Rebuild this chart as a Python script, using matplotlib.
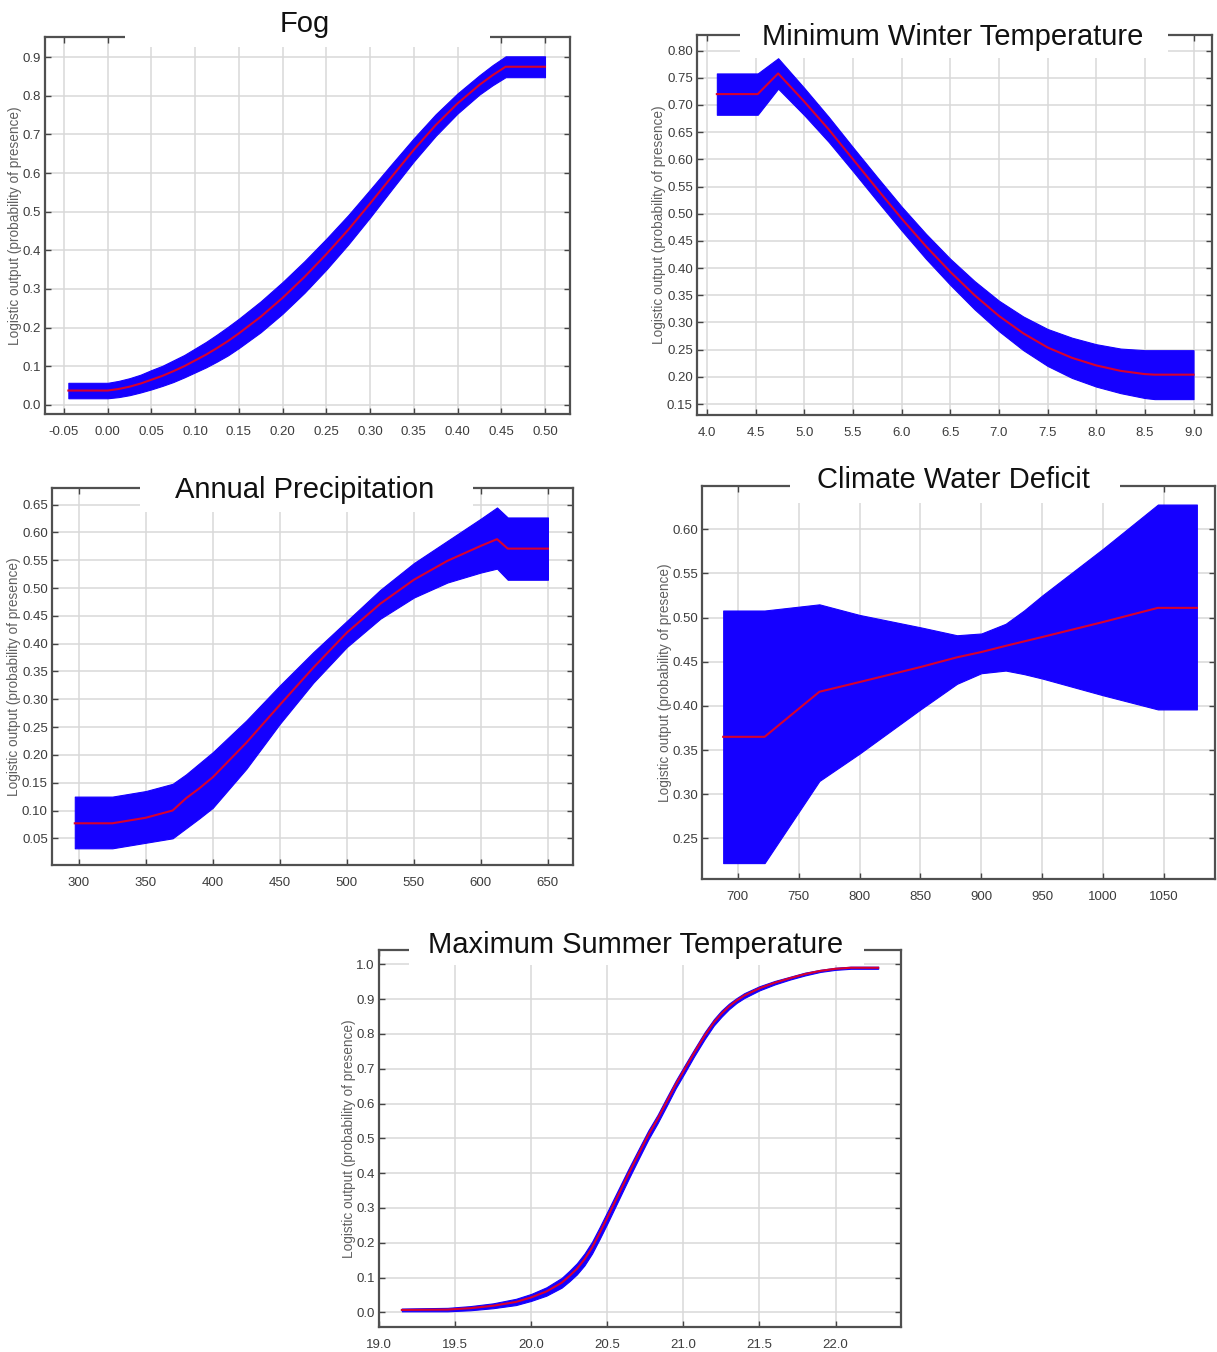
import numpy as np
import matplotlib
matplotlib.use('Agg')
import matplotlib.pyplot as plt
from matplotlib.patches import Rectangle
plt.close('all')

# Fog
fog_x = [-0.045, 0.0, 0.0125, 0.025, 0.0375, 0.05, 0.0625, 0.075, 0.0875, 0.10, 0.1125,
         0.125, 0.1375, 0.15, 0.175, 0.20, 0.225, 0.25, 0.275, 0.30, 0.325, 0.35, 0.375,
         0.40, 0.425, 0.44, 0.455, 0.50]
fog_mean = [0.037, 0.037, 0.041, 0.047, 0.055, 0.065, 0.075, 0.087, 0.100, 0.115, 0.130,
            0.147, 0.165, 0.185, 0.228, 0.277, 0.331, 0.390, 0.453, 0.521, 0.591, 0.660, 0.724,
            0.780, 0.828, 0.853, 0.875, 0.875]
fog_hi = [0.057, 0.057, 0.062, 0.069, 0.078, 0.090, 0.101, 0.115, 0.129, 0.146, 0.163,
          0.182, 0.202, 0.223, 0.268, 0.318, 0.372, 0.430, 0.491, 0.557, 0.624, 0.690, 0.752,
          0.806, 0.853, 0.879, 0.902, 0.902]
fog_lo = [0.017, 0.017, 0.020, 0.025, 0.032, 0.040, 0.049, 0.059, 0.071, 0.084, 0.097,
          0.112, 0.128, 0.147, 0.188, 0.236, 0.290, 0.350, 0.415, 0.485, 0.558, 0.630, 0.696,
          0.754, 0.803, 0.827, 0.848, 0.848]
fog_xticks = [-0.05, 0.0, 0.05, 0.10, 0.15, 0.20, 0.25, 0.30, 0.35, 0.40, 0.45, 0.50]
fog_yticks = [0.0, 0.1, 0.2, 0.3, 0.4, 0.5, 0.6, 0.7, 0.8, 0.9]

# Minimum Winter Temperature
mwt_x = [4.1, 4.52, 4.73, 5.0, 5.25, 5.5, 5.75, 6.0, 6.25, 6.5, 6.75, 7.0, 7.25,
         7.5, 7.75, 8.0, 8.25, 8.5, 8.6, 9.0]
mwt_mean = [0.720, 0.720, 0.758, 0.706, 0.655, 0.600, 0.545, 0.491, 0.440, 0.393, 0.350,
            0.312, 0.280, 0.254, 0.235, 0.221, 0.211, 0.205, 0.204, 0.204]
mwt_hi = [0.758, 0.758, 0.786, 0.731, 0.678, 0.622, 0.567, 0.513, 0.463, 0.417, 0.376,
          0.340, 0.311, 0.288, 0.272, 0.260, 0.252, 0.249, 0.249, 0.249]
mwt_lo = [0.682, 0.682, 0.730, 0.681, 0.632, 0.578, 0.523, 0.469, 0.417, 0.369, 0.324,
          0.284, 0.249, 0.220, 0.198, 0.182, 0.170, 0.161, 0.159, 0.159]
mwt_xticks = [4.0, 4.5, 5.0, 5.5, 6.0, 6.5, 7.0, 7.5, 8.0, 8.5, 9.0]
mwt_yticks = [0.15, 0.20, 0.25, 0.30, 0.35, 0.40, 0.45, 0.50, 0.55, 0.60, 0.65, 0.70, 0.75, 0.80]

# Annual Precipitation
ap_x = [297, 325, 350, 370, 380, 390, 400, 425, 450, 475, 500, 525, 550, 575, 600, 612, 620, 650]
ap_mean = [0.077, 0.077, 0.087, 0.100, 0.122, 0.140, 0.160, 0.222, 0.290, 0.357, 0.420, 0.472,
           0.515, 0.549, 0.576, 0.588, 0.571, 0.571]
ap_hi = [0.125, 0.125, 0.135, 0.148, 0.165, 0.185, 0.205, 0.262, 0.325, 0.385, 0.441, 0.497,
         0.545, 0.585, 0.625, 0.645, 0.627, 0.627]
ap_lo = [0.032, 0.032, 0.042, 0.050, 0.068, 0.086, 0.105, 0.175, 0.256, 0.330, 0.394, 0.445,
         0.483, 0.510, 0.528, 0.535, 0.515, 0.515]
ap_xticks = [300, 350, 400, 450, 500, 550, 600, 650]
ap_yticks = [0.05, 0.10, 0.15, 0.20, 0.25, 0.30, 0.35, 0.40, 0.45, 0.50, 0.55, 0.60, 0.65]

# Climate Water Deficit
cwd_x = [688, 722, 767, 800, 850, 880, 900, 920, 935, 950, 1000, 1045, 1077]
cwd_mean = [0.365, 0.365, 0.416, 0.427, 0.444, 0.455, 0.461, 0.468, 0.473, 0.478, 0.495,
            0.511, 0.511]
cwd_hi = [0.508, 0.508, 0.515, 0.503, 0.489, 0.480, 0.482, 0.493, 0.508, 0.525, 0.578,
          0.628, 0.628]
cwd_lo = [0.222, 0.222, 0.315, 0.346, 0.396, 0.425, 0.437, 0.440, 0.436, 0.431, 0.412,
          0.396, 0.396]
cwd_xticks = [700, 750, 800, 850, 900, 950, 1000, 1050]
cwd_yticks = [0.25, 0.30, 0.35, 0.40, 0.45, 0.50, 0.55, 0.60]

# Maximum Summer Temperature
mst_x = [19.15, 19.45, 19.6, 19.75, 19.9, 20.0, 20.1, 20.2, 20.25, 20.3, 20.35, 20.4, 20.45,
         20.5, 20.57, 20.64, 20.7, 20.77, 20.83, 20.89, 20.95, 21.01, 21.07, 21.14, 21.2,
         21.25, 21.3, 21.35, 21.4, 21.5, 21.6, 21.7, 21.8, 21.9, 22.0, 22.1, 22.28]
mst_mean = [0.007, 0.008, 0.012, 0.019, 0.030, 0.043, 0.060, 0.085, 0.104, 0.125, 0.152,
            0.186, 0.228, 0.272, 0.335, 0.398, 0.450, 0.510, 0.555, 0.605, 0.655, 0.700,
            0.745, 0.795, 0.833, 0.858, 0.879, 0.896, 0.910, 0.931, 0.947, 0.960, 0.972,
            0.981, 0.987, 0.990, 0.990]
mst_hi = [0.011, 0.013, 0.018, 0.026, 0.039, 0.053, 0.072, 0.099, 0.119, 0.141, 0.169,
          0.203, 0.245, 0.289, 0.351, 0.413, 0.464, 0.523, 0.567, 0.617, 0.666, 0.711,
          0.755, 0.805, 0.842, 0.867, 0.887, 0.903, 0.917, 0.937, 0.952, 0.964, 0.976,
          0.984, 0.990, 0.993, 0.993]
mst_lo = [0.003, 0.003, 0.006, 0.012, 0.021, 0.033, 0.048, 0.071, 0.089, 0.109, 0.135,
          0.169, 0.211, 0.255, 0.319, 0.383, 0.436, 0.497, 0.543, 0.593, 0.644, 0.689,
          0.735, 0.785, 0.824, 0.849, 0.871, 0.889, 0.903, 0.925, 0.942, 0.956, 0.968,
          0.978, 0.984, 0.987, 0.987]
mst_xticks = [19.0, 19.5, 20.0, 20.5, 21.0, 21.5, 22.0]
mst_yticks = [0.0, 0.1, 0.2, 0.3, 0.4, 0.5, 0.6, 0.7, 0.8, 0.9, 1.0]

ylab = 'Logistic output (probability of presence)'
BLUE = '#1500ff'
RED = '#d8002e'

W, H = 1217, 1352
fig = plt.figure(figsize=(W / 100, H / 100), dpi=100)
fig.patch.set_facecolor('white')


def panel(box, x, mean, lo, hi, xlim, ylim, xticks, yticks, xfmt, yfmt,
          title, tpos, gap, labx):
    l, t, r, b = box
    ax = fig.add_axes([l / W, 1 - b / H, (r - l) / W, (b - t) / H])
    ax.fill_between(x, lo, hi, color=BLUE, lw=0.8, edgecolor=BLUE, zorder=2)
    ax.plot(x, mean, color=RED, lw=1.5, zorder=3)
    ax.set_xlim(xlim)
    ax.set_ylim(ylim)
    ax.set_xticks(xticks)
    ax.set_yticks(yticks)
    ax.set_xticklabels([xfmt % v for v in xticks])
    ax.set_yticklabels([yfmt % v for v in yticks])
    ax.grid(True, color='#d9d9d9', lw=1.1)
    ax.set_axisbelow(True)
    ax.tick_params(direction='in', top=True, right=True, length=4, width=1,
                   color='#444444', labelsize=9.5, labelcolor='#3c3c3c')
    ax.tick_params(axis='x', pad=9)
    ax.tick_params(axis='y', pad=3)
    for lab in ax.get_xticklabels() + ax.get_yticklabels():
        lab.set_family('Liberation Sans')
    for s in ax.spines.values():
        s.set_color('#505050')
        s.set_linewidth(1.6)
    ax.set_ylabel(ylab, fontsize=9.8, color='#606060', family='Liberation Sans')
    ax.yaxis.set_label_coords(-(l - labx - 6) / (r - l), 0.5)
    # white box behind the title that breaks the top frame
    gx0, gx1, gy0, gy1 = gap
    fig.add_artist(Rectangle((gx0 / W, 1 - gy1 / H), (gx1 - gx0) / W, (gy1 - gy0) / H,
                             transform=fig.transFigure, facecolor='white',
                             edgecolor='none', zorder=2))
    fig.text(tpos[0] / W, 1 - tpos[1] / H, title, ha='center', va='baseline',
             fontsize=21, family='Liberation Sans', color='#111111', zorder=3)
    return ax


panel((45, 37, 570, 414), fog_x, fog_mean, fog_lo, fog_hi,
      (-0.0717, 0.5286), (-0.0237, 0.952), fog_xticks, fog_yticks, '%.2f', '%.1f',
      'Fog', (305, 32), (125, 490, 0, 47), 16)

panel((697, 35, 1212, 415), mwt_x, mwt_mean, mwt_lo, mwt_hi,
      (3.896, 9.19), (0.1298, 0.8287), mwt_xticks, mwt_yticks, '%.1f', '%.2f',
      'Minimum Winter Temperature', (953, 45), (740, 1168, 0, 58), 660)

panel((52, 488, 573, 865), ap_x, ap_mean, ap_lo, ap_hi,
      (280, 668.7), (0.002, 0.68), ap_xticks, ap_yticks, '%d', '%.2f',
      'Annual Precipitation', (305, 498), (140, 473, 465, 512), 15)

panel((702, 486, 1215, 879), cwd_x, cwd_mean, cwd_lo, cwd_hi,
      (670.6, 1091.9), (0.204, 0.649), cwd_xticks, cwd_yticks, '%d', '%.2f',
      'Climate Water Deficit', (953, 488), (790, 1120, 460, 503), 666)

panel((379, 950, 901, 1327), mst_x, mst_mean, mst_lo, mst_hi,
      (19.0, 22.43), (-0.042, 1.041), mst_xticks, mst_yticks, '%.1f', '%.1f',
      'Maximum Summer Temperature', (636, 953), (409, 864, 920, 965), 350)

fig.savefig('out.png', dpi=100, facecolor='white')
